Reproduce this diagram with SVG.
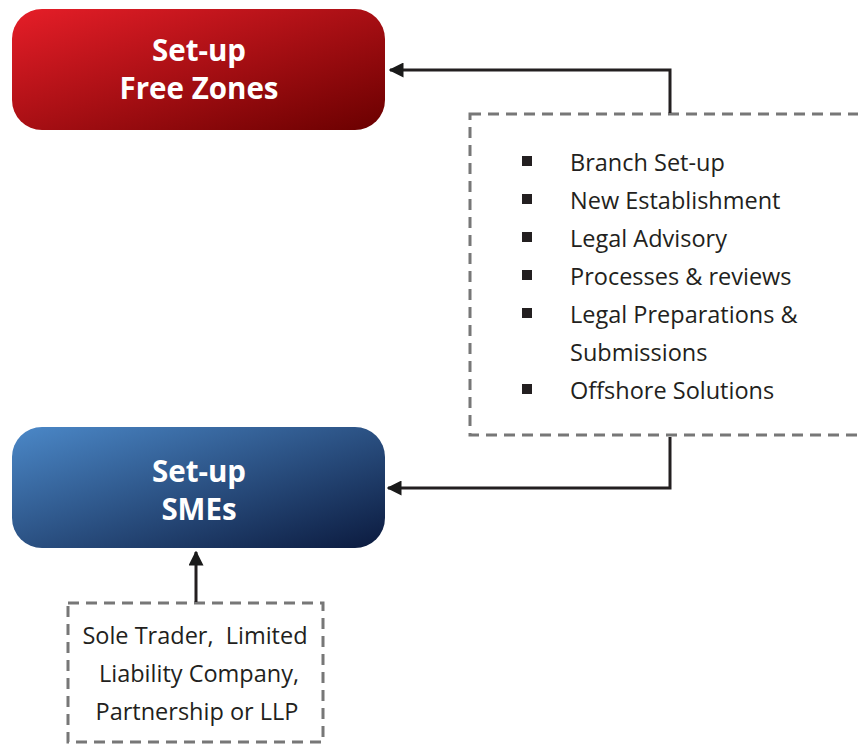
<svg xmlns="http://www.w3.org/2000/svg" width="858" height="745" viewBox="0 0 858 745">
<defs>
<linearGradient id="gRed" x1="0" y1="0" x2="1" y2="1">
<stop offset="0" stop-color="#e61e28"/>
<stop offset="1" stop-color="#6a0000"/>
</linearGradient>
<linearGradient id="gBlue" x1="0" y1="0" x2="1" y2="1">
<stop offset="0" stop-color="#4b88c8"/>
<stop offset="1" stop-color="#0b1a3e"/>
</linearGradient>
<marker id="arr" viewBox="0 0 10 10" refX="9" refY="5" markerWidth="5" markerHeight="5" markerUnits="strokeWidth" orient="auto">
<path d="M0,0 L10,5 L0,10 z" fill="#1a1a1a"/>
</marker>
<style>
.title{font-family:"Open Sans","Noto Sans",sans-serif;font-weight:bold;font-size:29.5px;fill:#fff;text-anchor:middle}
.body{font-family:"Open Sans","Noto Sans",sans-serif;font-size:23.5px;fill:#231f20}
.dash{fill:none;stroke:#777;stroke-width:3;stroke-dasharray:11 7}
.conn{fill:none;stroke:#231f20;stroke-width:3}
.bul{fill:#231f20}
</style>
</defs>
<g id="free-zones">
<rect x="12" y="9" width="373" height="121" rx="30" fill="url(#gRed)"/>
<text class="title" x="199" y="61">Set-up</text>
<text class="title" x="199" y="99">Free Zones</text>
</g>
<g id="smes">
<rect x="12" y="427" width="373" height="121" rx="30" fill="url(#gBlue)"/>
<text class="title" x="199" y="482">Set-up</text>
<text class="title" x="199" y="520">SMEs</text>
</g>
<g id="services">
<rect class="dash" x="470" y="114" width="420" height="321"/>
<rect class="bul" x="522" y="156" width="10" height="10"/>
<rect class="bul" x="522" y="194" width="10" height="10"/>
<rect class="bul" x="522" y="232" width="10" height="10"/>
<rect class="bul" x="522" y="270" width="10" height="10"/>
<rect class="bul" x="522" y="308" width="10" height="10"/>
<rect class="bul" x="522" y="384" width="10" height="10"/>
<text class="body" x="570" y="171">Branch Set-up</text>
<text class="body" x="570" y="209">New Establishment</text>
<text class="body" x="570" y="247">Legal Advisory</text>
<text class="body" x="570" y="285">Processes &amp; reviews</text>
<text class="body" x="570" y="323">Legal Preparations &amp;</text>
<text class="body" x="570" y="361">Submissions</text>
<text class="body" x="570" y="399">Offshore Solutions</text>
</g>
<g id="entity-types">
<rect class="dash" x="68" y="603" width="255" height="139"/>
<text class="body" x="195" y="644" text-anchor="middle" xml:space="preserve">Sole Trader,  Limited</text>
<text class="body" x="199" y="682" text-anchor="middle">Liability Company,</text>
<text class="body" x="197" y="720" text-anchor="middle">Partnership or LLP</text>
</g>
<g id="connectors">
<path class="conn" d="M670,113 V70 H390" marker-end="url(#arr)"/>
<path class="conn" d="M670,437 V488 H388" marker-end="url(#arr)"/>
<path class="conn" d="M196,602 V552" marker-end="url(#arr)"/>
</g>
</svg>
